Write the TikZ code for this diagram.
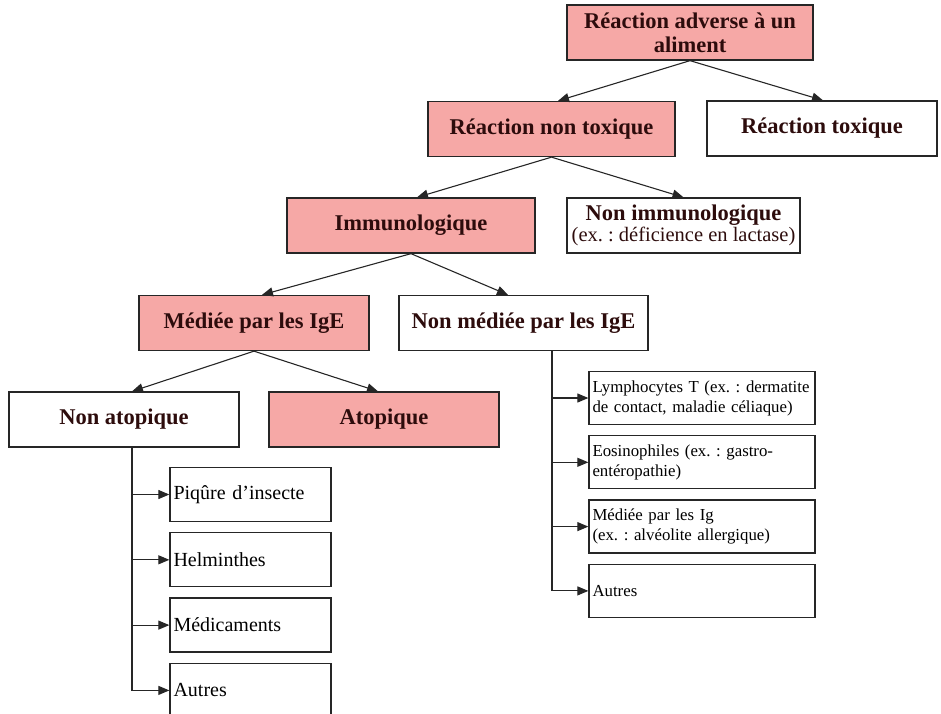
\documentclass[tikz,border=0pt]{standalone}
\usepackage{fontspec}
\setmainfont{Liberation Serif}
\usetikzlibrary{positioning,arrows.meta}
\definecolor{rosebox}{RGB}{246,168,166}
\definecolor{inkdark}{RGB}{45,12,12}
\frenchspacing

\begin{document}
\begin{tikzpicture}[
  x=1pt, y=-1pt,
  node distance=10pt,
  head/.style={draw=black!85, line width=1.3pt, align=center, text=inkdark,
               minimum height=55pt, inner sep=2pt,
               font=\fontsize{22.5}{24}\selectfont\bfseries},
  allergy/.style={head, fill=rosebox},
  item/.style={draw=black!85, line width=1.3pt, align=left,
               minimum height=53pt, inner sep=3.5pt,
               font=\fontsize{16.8}{20}\selectfont},
  bigitem/.style={item, minimum height=54pt, font=\fontsize{20}{22}\selectfont},
  arrow/.style={-{Triangle[length=11pt,width=9pt]}, line width=1.1pt, draw=black!85}
]
\useasboundingbox (0,0) rectangle (941,713);

% arbre principal
\node[allergy, minimum width=246pt] (adverse)  at (690,32.5)  {Réaction adverse à un\\aliment};
\node[allergy, minimum width=247pt] (nontox)   at (551.5,129) {Réaction non toxique};
\node[head,    minimum width=230pt] (tox)      at (822,128.5) {Réaction toxique};
\node[allergy, minimum width=248pt] (immuno)   at (411,225.5) {Immunologique};
\node[head,    minimum width=233pt] (nonimmuno) at (683.5,225.5)
  {Non immunologique\\[-3pt]{\fontsize{20.5}{21}\selectfont\mdseries (ex. : déficience en lactase)}};
\node[allergy, minimum width=230pt] (ige)      at (254,323)   {Médiée par les IgE};
\node[head,    minimum width=249pt] (nonige)   at (523.5,323) {Non médiée par les IgE};
\node[head,    minimum width=230pt] (nonatop)  at (124,419.5) {Non atopique};
\node[allergy, minimum width=230pt] (atop)     at (384,419.5) {Atopique};

% listes
\node[bigitem, text width=154pt] (piq)   at (250.5,494.5) {Piqûre d’insecte};
\node[bigitem, text width=154pt, below=of piq]   (helm)    {Helminthes};
\node[bigitem, text width=154pt, below=of helm]  (medic)   {Médicaments};
\node[bigitem, text width=154pt, below=of medic] (autresg) {Autres};

\node[item, text width=219pt] (lympho) at (702,398)
  {\mbox{Lymphocytes T (ex. : dermatite}\\\mbox{de contact, maladie céliaque)}};
\node[item, text width=219pt, below=of lympho] (eosino)
  {\mbox{Eosinophiles (ex. : gastro-}\\\mbox{entéropathie)}};
\node[item, text width=219pt, below=of eosino] (igmed)
  {\mbox{Médiée par les Ig}\\\mbox{(ex. : alvéolite allergique)}};
\node[item, text width=219pt, below=of igmed]  (autresd) {Autres};

\draw[arrow] (adverse.south) -- ([xshift=6.5pt]nontox.north);
\draw[arrow] (adverse.south) -- ([xshift=1pt]tox.north);
\draw[arrow] (nontox.south)  -- ([xshift=6pt]immuno.north);
\draw[arrow] (nontox.south)  -- (nonimmuno.north);
\draw[arrow] (immuno.south)  -- ([xshift=8pt]ige.north);
\draw[arrow] (immuno.south)  -- ([xshift=-15.5pt]nonige.north);
\draw[arrow] (ige.south)     -- ([xshift=8pt]nonatop.north);
\draw[arrow] (ige.south)     -- ([xshift=-6pt]atop.north);

\foreach \n in {piq,helm,medic,autresg}
  \draw[arrow] ([xshift=8pt]nonatop.south) |- (\n.west);
\foreach \n in {lympho,eosino,igmed,autresd}
  \draw[arrow] ([xshift=28.5pt]nonige.south) |- (\n.west);
\end{tikzpicture}
\end{document}
